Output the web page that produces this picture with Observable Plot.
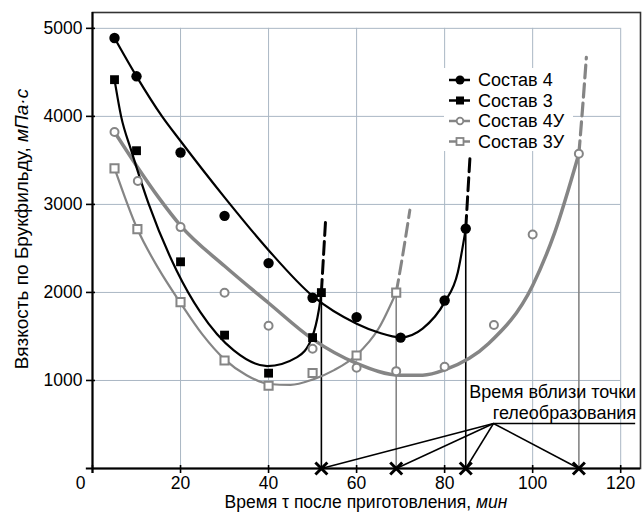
<!DOCTYPE html>
<html>
<head>
<meta charset="utf-8">
<script src="https://cdn.jsdelivr.net/npm/d3@7"></script>
<script src="https://cdn.jsdelivr.net/npm/@observablehq/plot@0.6"></script>
<style>
  html, body { margin: 0; padding: 0; background: #fff; }
  #chart svg { display: block; }
</style>
</head>
<body>
<div id="chart"></div>
<script>
// ---------- data ----------
const seriesNames = ["Состав 4", "Состав 3", "Состав 4У", "Состав 3У"];

// measured points
const s4x = [5, 10, 20, 30, 40, 50, 60, 70, 80, 84.8];
const s4y = [4890, 4455, 3590, 2870, 2333, 1940, 1720, 1487, 1909, 2725];
const s3x = [5, 10, 20, 30, 40, 50, 52];
const s3y = [4417, 3610, 2348, 1515, 1083, 1487, 1998];
const s4ux = [5, 10.3, 20, 30, 40, 50, 60, 69, 80, 91.2, 100, 110.5];
const s4uy = [3822, 3265, 2742, 1996, 1621, 1360, 1144, 1106, 1155, 1630, 2659, 3576];
const s3ux = [5, 10.2, 20, 30, 40, 50, 60, 69];
const s3uy = [3410, 2720, 1890, 1227, 940, 1085, 1284, 1998];

// fitted curves
const c4x = [5, 10, 15.8, 20, 30, 40, 50, 60, 65, 70, 75, 80, 83, 84.8];
const c4y = [4890, 4455, 4000, 3720, 3080, 2480, 1960, 1645, 1545, 1490, 1590, 1890, 2230, 2725];
const c4dx = [84.8, 85.3, 85.8];
const c4dy = [2725, 3150, 3570];

const c3x = [5, 6.5, 8.8, 12.8, 19.1, 24.5, 32.1, 39.7, 46.5, 49.9, 51.4, 52];
const c3y = [4417, 4000, 3614, 3000, 2250, 1776, 1341, 1163, 1265, 1492, 1795, 2000];
const c3dx = [52, 52.5, 53];
const c3dy = [2000, 2430, 2860];

const c4ux = [5, 10, 15, 20, 30, 40, 50, 60, 70, 75, 80, 90, 100, 105, 110.5];
const c4uy = [3822, 3440, 3080, 2760, 2300, 1880, 1470, 1195, 1060, 1060, 1120, 1420, 2080, 2680, 3576];
const c4udx = [110.5, 111.3, 112.2];
const c4udy = [3576, 4068, 4670];

const c3ux = [5, 10.2, 15, 20, 25, 30, 35, 40, 45, 50, 55, 60, 65, 69];
const c3uy = [3413, 2720, 2270, 1880, 1520, 1240, 1060, 960, 950, 1010, 1120, 1290, 1590, 2000];
const c3udx = [69, 70.4, 72.1];
const c3udy = [2000, 2400, 2935];

// gelation times
const gelX = [52, 69, 84.8, 110.5];
const gelTop = [2000, 2000, 2725, 3576];
const gelColor = ["black", "gray", "black", "gray"];

// axes
const xTicks = [0, 20, 40, 60, 80, 100, 120];
const yTicks = [1000, 2000, 3000, 4000, 5000];
const xGrid = [20, 40, 60, 80, 100, 120];

// annotation
const annLines = ["Время вблизи точки", "гелеобразования"];
const annPivot = {x: 91.1, y: 511};
const annRight = 123.4;

// ---------- styles ----------
const GRAY = "#858585";
const GRID = "#aab7c4";
const FONT = "Liberation Sans, Arial, Helvetica, sans-serif";
const FS = 18;
const FS_TICK = 17.5;
const FS_TITLE = 17.5;

const zip = (xs, ys) => xs.map((x, i) => ({x, y: ys[i]}));

const chart = Plot.plot({
  width: 642,
  height: 514,
  marginLeft: 92,
  marginRight: 2,
  marginTop: 12,
  marginBottom: 46,
  x: {domain: [0, 124.5], axis: null},
  y: {domain: [0, 5180], axis: null},
  style: {fontFamily: FONT, fontSize: FS + "px", background: "white", color: "black"},
  marks: [
    // grid
    Plot.ruleX(xGrid, {x: d => d, y1: 0, y2: 5000, stroke: GRID, strokeWidth: 1}),
    Plot.ruleY(yTicks, {y: d => d, x1: 0, x2: 120, stroke: GRID, strokeWidth: 1}),
    Plot.frame({stroke: "#333", strokeWidth: 1.6}),

    // gel vertical lines
    Plot.ruleX(gelX.map((x, i) => ({x, top: gelTop[i], c: gelColor[i]})),
      {x: "x", y1: 0, y2: "top", stroke: d => d.c === "black" ? "black" : GRAY, strokeWidth: 1.6}),

    // fitted curves
    Plot.line(zip(c4ux, c4uy), {x: "x", y: "y", curve: "monotone-x", stroke: GRAY, strokeWidth: 3.5}),
    Plot.line(zip(c3ux, c3uy), {x: "x", y: "y", curve: "monotone-x", stroke: GRAY, strokeWidth: 2.2}),
    Plot.line(zip(c4x, c4y), {x: "x", y: "y", curve: "monotone-x", stroke: "black", strokeWidth: 2.2}),
    Plot.line(zip(c3x, c3y), {x: "x", y: "y", curve: "monotone-x", stroke: "black", strokeWidth: 2.2}),

    // dashed extensions
    Plot.line(zip(c4udx, c4udy), {x: "x", y: "y", curve: "monotone-x", stroke: GRAY, strokeWidth: 3.2, strokeDasharray: "13,6"}),
    Plot.line(zip(c3udx, c3udy), {x: "x", y: "y", curve: "monotone-x", stroke: GRAY, strokeWidth: 3, strokeDasharray: "13,6"}),
    Plot.line(zip(c4dx, c4dy), {x: "x", y: "y", curve: "monotone-x", stroke: "black", strokeWidth: 3, strokeDasharray: "13,6"}),
    Plot.line(zip(c3dx, c3dy), {x: "x", y: "y", curve: "monotone-x", stroke: "black", strokeWidth: 3, strokeDasharray: "13,6"}),

    // annotation leader lines
    Plot.link(gelX, {x1: () => annPivot.x, y1: () => annPivot.y, x2: d => d, y2: 0, stroke: "black", strokeWidth: 1.5}),
    Plot.ruleY([annPivot.y], {x1: annPivot.x, x2: annRight, stroke: "black", strokeWidth: 1.3}),

    // markers
    Plot.dot(zip(s3ux, s3uy), {x: "x", y: "y", symbol: "square", r: 4.6, fill: "white", stroke: GRAY, strokeWidth: 2}),
    Plot.dot(zip(s4ux, s4uy), {x: "x", y: "y", symbol: "circle", r: 4, fill: "white", stroke: GRAY, strokeWidth: 2}),
    Plot.dot(zip(s3x, s3y), {x: "x", y: "y", symbol: "square", r: 5, fill: "black"}),
    Plot.dot(zip(s4x, s4y), {x: "x", y: "y", symbol: "circle", r: 5.2, fill: "black"}),

    // axes lines and ticks
    Plot.ruleY([0], {x1: -1.4, x2: 124.5, stroke: "black", strokeWidth: 2}),
    Plot.ruleX([0], {y1: -57, y2: 5180, stroke: "black", strokeWidth: 2}),
    Plot.ruleX(xTicks, {x: d => d, y1: -57, y2: 34, stroke: "black", strokeWidth: 1.6}),
    Plot.ruleY(yTicks, {y: d => d, x1: -1.36, x2: 0.68, stroke: "black", strokeWidth: 1.6}),

    // gel time crosses
    Plot.dot(gelX, {x: d => d, y: 0, symbol: "times", r: 5.5, stroke: "black", strokeWidth: 3}),

    // tick labels
    Plot.text(xTicks.filter(d => d !== 0), {x: d => d, y: 0, dy: 15, text: d => String(d), fontSize: FS_TICK, fill: "black"}),
    Plot.text([0], {x: 0, y: 0, dx: -12, dy: 15, text: d => String(d), fontSize: FS_TICK, fill: "black"}),
    Plot.text(yTicks, {x: 0, y: d => d, dx: -10, text: d => String(d), textAnchor: "end", fontSize: FS_TICK, fill: "black"})
  ]
});

// ---------- titles, annotation and legend ----------
const svg = d3.select(chart);
const sx = chart.scale("x"), sy = chart.scale("y");

const xt = svg.append("text")
  .attr("x", 366).attr("y", 508)
  .attr("text-anchor", "middle")
  .attr("font-family", FONT).attr("font-size", FS_TITLE).attr("fill", "black");
xt.append("tspan").text("Время τ после приготовления, ");
xt.append("tspan").attr("font-style", "italic").text("мин");

const yt = svg.append("text")
  .attr("transform", "translate(27.5,229) rotate(-90)")
  .attr("text-anchor", "middle")
  .attr("font-family", FONT).attr("font-size", 19).attr("fill", "black");
yt.append("tspan").text("Вязкость по Брукфильду, ");
yt.append("tspan").attr("font-style", "italic").text("мПа·с");

// annotation text, anchored at the end of the underline
const annX = sx.apply(annRight) + 1;
const annY = sy.apply(annPivot.y);
annLines.forEach((t, i) => {
  svg.append("text")
    .attr("x", annX).attr("y", annY - 25 + i * 21)
    .attr("text-anchor", "end")
    .attr("font-family", FONT).attr("font-size", FS).attr("fill", "black")
    .text(t);
});

// legend
const lg = svg.append("g").attr("transform", "translate(444,68)");
lg.append("rect").attr("x", 0).attr("y", 0).attr("width", 129).attr("height", 83).attr("fill", "white");
const legendStyle = [
  {stroke: "black", sym: "circle", fill: "black"},
  {stroke: "black", sym: "square", fill: "black"},
  {stroke: GRAY, sym: "circle", fill: "white"},
  {stroke: GRAY, sym: "square", fill: "white"}
];
seriesNames.forEach((name, i) => {
  const st = legendStyle[i];
  const cy = 12 + i * 20.5;
  const row = lg.append("g").attr("transform", `translate(0,${cy})`);
  row.append("line").attr("x1", 5).attr("x2", 26).attr("y1", 0).attr("y2", 0)
    .attr("stroke", st.stroke).attr("stroke-width", 2.5);
  if (st.sym === "circle") {
    row.append("circle").attr("cx", 16).attr("cy", 0)
      .attr("r", st.fill === "black" ? 4.5 : 3.3)
      .attr("fill", st.fill).attr("stroke", st.stroke).attr("stroke-width", st.fill === "black" ? 0 : 1.8);
  } else {
    const s = st.fill === "black" ? 8 : 7;
    row.append("rect").attr("x", 16 - s / 2).attr("y", -s / 2).attr("width", s).attr("height", s)
      .attr("fill", st.fill).attr("stroke", st.stroke).attr("stroke-width", st.fill === "black" ? 0 : 1.8);
  }
  row.append("text").attr("x", 34).attr("y", 0).attr("dy", "0.36em")
    .attr("text-anchor", "start")
    .attr("font-family", FONT).attr("font-size", FS).attr("fill", "black").text(name);
});

document.getElementById("chart").appendChild(chart);
</script>
</body>
</html>
